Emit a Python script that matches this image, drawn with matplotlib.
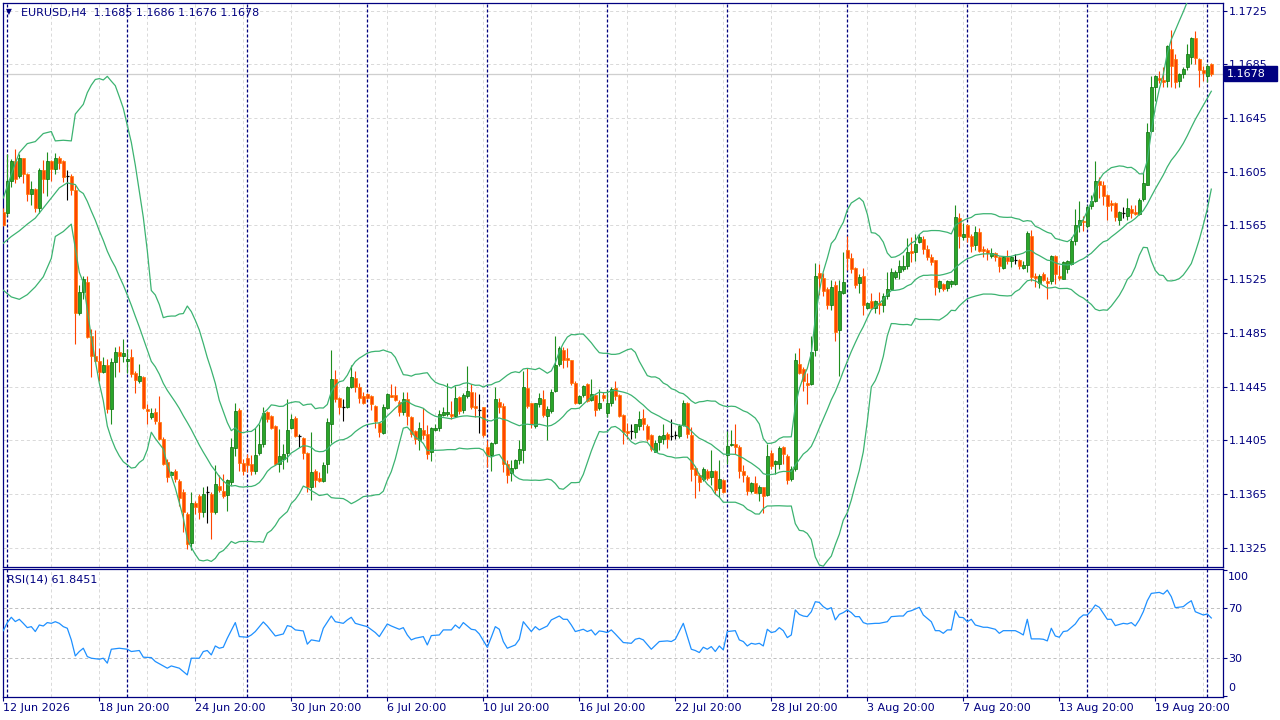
import numpy as np
import pandas as pd
import matplotlib
matplotlib.use("Agg")
import matplotlib.pyplot as plt
from matplotlib.patches import Rectangle

plt.rcParams["font.family"] = ["DejaVu Sans"]

# ---- EURUSD H4 candles (bar 0 = 12 Jun 2026) ----
opens = [
    1.15750, 1.15743, 1.15985, 1.16130, 1.16018, 1.16150, 1.16035, 1.15885, 1.15925, 1.15780,
    1.16060, 1.16000, 1.16130, 1.16068, 1.16150, 1.16130, 1.16018, 1.16018, 1.15918, 1.15000,
    1.15155, 1.15230, 1.14825, 1.14680, 1.14643, 1.14560, 1.14613, 1.14280, 1.14635, 1.14705,
    1.14680, 1.14643, 1.14668, 1.14555, 1.14493, 1.14525, 1.14285, 1.14225, 1.14260, 1.14188,
    1.14063, 1.13888, 1.13790, 1.13820, 1.13745, 1.13663, 1.13500, 1.13283, 1.13583, 1.13638,
    1.13518, 1.13668, 1.13650, 1.13518, 1.13713, 1.13675, 1.13643, 1.13743, 1.13993, 1.14275,
    1.13883, 1.13918, 1.13875, 1.13825, 1.13958, 1.14025, 1.14263, 1.14233, 1.14158, 1.13875,
    1.13913, 1.13958, 1.14138, 1.14218, 1.14083, 1.14068, 1.13958, 1.13705, 1.13820, 1.13770,
    1.13745, 1.13870, 1.14175, 1.14505, 1.14368, 1.14300, 1.14300, 1.14450, 1.14513, 1.14450,
    1.14380, 1.14395, 1.14380, 1.14305, 1.14180, 1.14105, 1.14288, 1.14388, 1.14388, 1.14338,
    1.14263, 1.14355, 1.14220, 1.14120, 1.14055, 1.14125, 1.14095, 1.13963, 1.14125, 1.14145,
    1.14238, 1.14245, 1.14245, 1.14230, 1.14370, 1.14275, 1.14380, 1.14413, 1.14305, 1.14275,
    1.14295, 1.14000, 1.13938, 1.14030, 1.14338, 1.14305, 1.13875, 1.13805, 1.13845, 1.13905,
    1.13975, 1.14443, 1.14325, 1.14155, 1.14320, 1.14355, 1.14230, 1.14270, 1.14420, 1.14620,
    1.14720, 1.14663, 1.14645, 1.14480, 1.14330, 1.14388, 1.14470, 1.14350, 1.14388, 1.14288,
    1.14388, 1.14255, 1.14330, 1.14438, 1.14388, 1.14238, 1.14120, 1.14120, 1.14113, 1.14155,
    1.14213, 1.14155, 1.14088, 1.13963, 1.14038, 1.14063, 1.14095, 1.14080, 1.14088, 1.14080,
    1.14163, 1.14330, 1.14088, 1.13845, 1.13795, 1.13763, 1.13825, 1.13780, 1.13825, 1.13695,
    1.13755, 1.13938, 1.14013, 1.14020, 1.14000, 1.13825, 1.13775, 1.13670, 1.13730, 1.13660,
    1.13700, 1.13643, 1.13955, 1.13875, 1.13875, 1.14000, 1.13935, 1.13760, 1.13835, 1.14618,
    1.14580, 1.14480, 1.14468, 1.14725, 1.15293, 1.15260, 1.15180, 1.15055, 1.15205, 1.14875,
    1.15150, 1.15468, 1.15410, 1.15335, 1.15225, 1.15275, 1.15035, 1.15085, 1.15035, 1.15075,
    1.15055, 1.15125, 1.15180, 1.15268, 1.15300, 1.15325, 1.15350, 1.15458, 1.15450, 1.15525,
    1.15550, 1.15475, 1.15415, 1.15390, 1.15183, 1.15215, 1.15183, 1.15215, 1.15215, 1.15708,
    1.15565, 1.15650, 1.15575, 1.15508, 1.15600, 1.15475, 1.15470, 1.15425, 1.15445, 1.15415,
    1.15333, 1.15415, 1.15383, 1.15390, 1.15390, 1.15333, 1.15358, 1.15575, 1.15275, 1.15225,
    1.15290, 1.15240, 1.15233, 1.15420, 1.15275, 1.15255, 1.15325, 1.15360, 1.15535, 1.15650,
    1.15685, 1.15643, 1.15793, 1.15835, 1.15980, 1.15950, 1.15875, 1.15818, 1.15818, 1.15693,
    1.15743, 1.15718, 1.15775, 1.15750, 1.15735, 1.15850, 1.15955, 1.16355, 1.16685, 1.16750,
    1.16735, 1.16730, 1.16968, 1.16893, 1.16725, 1.16775, 1.16830, 1.16905, 1.17050, 1.16893,
    1.16805, 1.16760, 1.16850,
]
highs = [
    1.15780, 1.16185, 1.16143, 1.16218, 1.16180, 1.16155, 1.16043, 1.15980, 1.15930, 1.16075,
    1.16135, 1.16200, 1.16140, 1.16193, 1.16168, 1.16135, 1.16060, 1.16030, 1.15955, 1.15205,
    1.15275, 1.15275, 1.14880, 1.14868, 1.14735, 1.14668, 1.14655, 1.14660, 1.14743, 1.14755,
    1.14805, 1.14730, 1.14730, 1.14568, 1.14618, 1.14530, 1.14318, 1.14293, 1.14293, 1.14383,
    1.14075, 1.13913, 1.13825, 1.13833, 1.13763, 1.13688, 1.13513, 1.13668, 1.13600, 1.13650,
    1.13700, 1.13713, 1.13663, 1.13868, 1.13793, 1.13800, 1.13763, 1.14068, 1.14330, 1.14288,
    1.13913, 1.13950, 1.13943, 1.14138, 1.14175, 1.14300, 1.14268, 1.14238, 1.14163, 1.14133,
    1.14025, 1.14358, 1.14243, 1.14230, 1.14100, 1.14075, 1.13963, 1.14113, 1.13838, 1.13813,
    1.13888, 1.14213, 1.14720, 1.14575, 1.14370, 1.14355, 1.14455, 1.14613, 1.14563, 1.14475,
    1.14413, 1.14405, 1.14388, 1.14313, 1.14188, 1.14320, 1.14400, 1.14470, 1.14455, 1.14350,
    1.14413, 1.14413, 1.14230, 1.14130, 1.14188, 1.14288, 1.14163, 1.14150, 1.14170, 1.14275,
    1.14295, 1.14475, 1.14345, 1.14455, 1.14380, 1.14405, 1.14600, 1.14470, 1.14413, 1.14395,
    1.14300, 1.14050, 1.14038, 1.14450, 1.14363, 1.14330, 1.13900, 1.13900, 1.13913, 1.14055,
    1.14563, 1.14588, 1.14330, 1.14330, 1.14400, 1.14425, 1.14305, 1.14430, 1.14825, 1.14750,
    1.14745, 1.14738, 1.14650, 1.14488, 1.14388, 1.14463, 1.14475, 1.14505, 1.14395, 1.14430,
    1.14413, 1.14425, 1.14445, 1.14488, 1.14395, 1.14245, 1.14180, 1.14170, 1.14175, 1.14270,
    1.14280, 1.14175, 1.14100, 1.14055, 1.14088, 1.14170, 1.14113, 1.14205, 1.14120, 1.14170,
    1.14350, 1.14338, 1.14150, 1.13855, 1.13805, 1.13850, 1.13838, 1.13975, 1.13830, 1.13900,
    1.13763, 1.14120, 1.14130, 1.14170, 1.14013, 1.13863, 1.13788, 1.13738, 1.13785, 1.13718,
    1.13705, 1.14025, 1.13975, 1.13905, 1.14005, 1.14010, 1.13950, 1.13855, 1.14700, 1.14735,
    1.14593, 1.14555, 1.14825, 1.15368, 1.15360, 1.15293, 1.15193, 1.15243, 1.15235, 1.15243,
    1.15455, 1.15575, 1.15443, 1.15343, 1.15285, 1.15335, 1.15080, 1.15150, 1.15093, 1.15155,
    1.15150, 1.15305, 1.15330, 1.15318, 1.15393, 1.15430, 1.15558, 1.15565, 1.15590, 1.15583,
    1.15575, 1.15508, 1.15440, 1.15395, 1.15245, 1.15225, 1.15245, 1.15245, 1.15800, 1.15745,
    1.15670, 1.15658, 1.15583, 1.15645, 1.15633, 1.15495, 1.15483, 1.15483, 1.15450, 1.15420,
    1.15425, 1.15470, 1.15425, 1.15440, 1.15400, 1.15383, 1.15608, 1.15620, 1.15295, 1.15290,
    1.15300, 1.15270, 1.15433, 1.15433, 1.15355, 1.15385, 1.15393, 1.15568, 1.15775, 1.15835,
    1.15718, 1.15800, 1.15880, 1.16130, 1.16010, 1.15985, 1.15885, 1.15843, 1.15825, 1.15760,
    1.15785, 1.15855, 1.15805, 1.15800, 1.15855, 1.16043, 1.16410, 1.16760, 1.16768, 1.16800,
    1.16830, 1.16993, 1.17105, 1.16930, 1.16785, 1.16830, 1.17005, 1.17055, 1.17100, 1.16900,
    1.16835, 1.16850, 1.16860,
]
lows = [
    1.15643, 1.15718, 1.15935, 1.15968, 1.16005, 1.15968, 1.15830, 1.15805, 1.15750, 1.15743,
    1.15893, 1.15868, 1.15980, 1.16035, 1.16068, 1.15975, 1.15838, 1.15880, 1.14768, 1.14980,
    1.15100, 1.14810, 1.14518, 1.14630, 1.14493, 1.14550, 1.14255, 1.14168, 1.14518, 1.14560,
    1.14635, 1.14550, 1.14518, 1.14405, 1.14480, 1.14280, 1.14168, 1.14205, 1.14168, 1.14050,
    1.13863, 1.13738, 1.13775, 1.13738, 1.13563, 1.13368, 1.13238, 1.13233, 1.13500, 1.13463,
    1.13475, 1.13433, 1.13313, 1.13500, 1.13663, 1.13618, 1.13525, 1.13718, 1.13933, 1.13825,
    1.13793, 1.13813, 1.13793, 1.13800, 1.13938, 1.14000, 1.14188, 1.14133, 1.13863, 1.13813,
    1.13838, 1.13888, 1.14133, 1.14075, 1.14000, 1.13913, 1.13668, 1.13605, 1.13705, 1.13738,
    1.13738, 1.13805, 1.14030, 1.14338, 1.14245, 1.14195, 1.14288, 1.14438, 1.14413, 1.14330,
    1.14320, 1.14355, 1.14275, 1.14138, 1.14075, 1.14100, 1.14280, 1.14370, 1.14345, 1.14230,
    1.14238, 1.14163, 1.14075, 1.14020, 1.13980, 1.14063, 1.13913, 1.13895, 1.14120, 1.14120,
    1.14230, 1.14230, 1.14205, 1.14225, 1.14245, 1.14250, 1.14363, 1.14280, 1.14220, 1.14105,
    1.14075, 1.13850, 1.13825, 1.14020, 1.14250, 1.13813, 1.13730, 1.13745, 1.13838, 1.13875,
    1.13880, 1.14288, 1.14145, 1.14145, 1.14300, 1.14225, 1.14050, 1.14255, 1.14413, 1.14600,
    1.14588, 1.14595, 1.14463, 1.14320, 1.14320, 1.14375, 1.14338, 1.14345, 1.14230, 1.14275,
    1.14345, 1.14220, 1.14305, 1.14350, 1.14225, 1.14020, 1.14063, 1.14063, 1.14070, 1.14130,
    1.14125, 1.14045, 1.13970, 1.13960, 1.13975, 1.14020, 1.13995, 1.14050, 1.14063, 1.14070,
    1.14155, 1.14070, 1.13745, 1.13620, 1.13670, 1.13750, 1.13755, 1.13720, 1.13650, 1.13630,
    1.13655, 1.13870, 1.14005, 1.13950, 1.13770, 1.13738, 1.13645, 1.13655, 1.13655, 1.13600,
    1.13510, 1.13635, 1.13835, 1.13800, 1.13835, 1.13875, 1.13725, 1.13750, 1.13825, 1.14543,
    1.14418, 1.14318, 1.14460, 1.14675, 1.15130, 1.15125, 1.15025, 1.15018, 1.14793, 1.14530,
    1.15143, 1.15318, 1.15293, 1.15185, 1.15150, 1.14980, 1.15025, 1.15025, 1.15000, 1.14993,
    1.15005, 1.15105, 1.15175, 1.15250, 1.15255, 1.15310, 1.15325, 1.15375, 1.15383, 1.15520,
    1.15440, 1.15390, 1.15358, 1.15133, 1.15158, 1.15165, 1.15165, 1.15195, 1.15208, 1.15483,
    1.15545, 1.15525, 1.15450, 1.15470, 1.15450, 1.15415, 1.15390, 1.15408, 1.15383, 1.15300,
    1.15325, 1.15365, 1.15340, 1.15365, 1.15325, 1.15325, 1.15300, 1.15233, 1.15190, 1.15183,
    1.15233, 1.15100, 1.15215, 1.15215, 1.15243, 1.15250, 1.15293, 1.15355, 1.15505, 1.15605,
    1.15610, 1.15635, 1.15775, 1.15825, 1.15855, 1.15805, 1.15693, 1.15760, 1.15680, 1.15655,
    1.15705, 1.15693, 1.15705, 1.15725, 1.15730, 1.15835, 1.15950, 1.16350, 1.16575, 1.16710,
    1.16685, 1.16685, 1.16685, 1.16675, 1.16680, 1.16750, 1.16810, 1.16855, 1.16855, 1.16680,
    1.16725, 1.16718, 1.16760,
]
closes = [
    1.15655, 1.15985, 1.16130, 1.16000, 1.16150, 1.16035, 1.15885, 1.15925, 1.15780, 1.16060,
    1.16000, 1.16130, 1.16068, 1.16150, 1.16118, 1.16010, 1.16018, 1.15918, 1.15000, 1.15155,
    1.15250, 1.14818, 1.14680, 1.14643, 1.14560, 1.14613, 1.14280, 1.14635, 1.14705, 1.14680,
    1.14698, 1.14655, 1.14543, 1.14500, 1.14530, 1.14293, 1.14268, 1.14255, 1.14193, 1.14063,
    1.13875, 1.13775, 1.13813, 1.13763, 1.13618, 1.13518, 1.13275, 1.13583, 1.13550, 1.13518,
    1.13650, 1.13668, 1.13518, 1.13725, 1.13683, 1.13638, 1.13758, 1.14000, 1.14268, 1.13883,
    1.13825, 1.13863, 1.13818, 1.13943, 1.14020, 1.14250, 1.14208, 1.14143, 1.13875, 1.13933,
    1.13948, 1.14125, 1.14208, 1.14083, 1.14083, 1.13958, 1.13700, 1.13813, 1.13755, 1.13750,
    1.13863, 1.14188, 1.14505, 1.14355, 1.14300, 1.14300, 1.14450, 1.14525, 1.14450, 1.14363,
    1.14330, 1.14363, 1.14320, 1.14195, 1.14113, 1.14300, 1.14395, 1.14375, 1.14350, 1.14263,
    1.14355, 1.14230, 1.14095, 1.14063, 1.14145, 1.14088, 1.13945, 1.14145, 1.14145, 1.14245,
    1.14263, 1.14263, 1.14230, 1.14363, 1.14270, 1.14388, 1.14420, 1.14295, 1.14288, 1.14275,
    1.14088, 1.13938, 1.14030, 1.14355, 1.14295, 1.13875, 1.13795, 1.13845, 1.13905, 1.13988,
    1.14450, 1.14305, 1.14170, 1.14325, 1.14363, 1.14238, 1.14280, 1.14413, 1.14613, 1.14738,
    1.14650, 1.14645, 1.14480, 1.14330, 1.14380, 1.14455, 1.14345, 1.14395, 1.14275, 1.14330,
    1.14363, 1.14330, 1.14430, 1.14380, 1.14230, 1.14113, 1.14105, 1.14120, 1.14170, 1.14205,
    1.14170, 1.14063, 1.13988, 1.14030, 1.14080, 1.14088, 1.14063, 1.14080, 1.14088, 1.14155,
    1.14325, 1.14095, 1.13838, 1.13788, 1.13738, 1.13838, 1.13770, 1.13820, 1.13680, 1.13763,
    1.13663, 1.14005, 1.14025, 1.14000, 1.13820, 1.13788, 1.13670, 1.13730, 1.13660, 1.13705,
    1.13635, 1.13935, 1.13860, 1.13893, 1.13993, 1.13950, 1.13755, 1.13835, 1.14650, 1.14555,
    1.14493, 1.14460, 1.14710, 1.15275, 1.15260, 1.15160, 1.15060, 1.15193, 1.14860, 1.15160,
    1.15230, 1.15410, 1.15325, 1.15210, 1.15268, 1.15055, 1.15073, 1.15035, 1.15085, 1.15060,
    1.15125, 1.15175, 1.15300, 1.15300, 1.15350, 1.15350, 1.15450, 1.15445, 1.15515, 1.15565,
    1.15475, 1.15415, 1.15375, 1.15190, 1.15240, 1.15175, 1.15233, 1.15233, 1.15715, 1.15575,
    1.15590, 1.15565, 1.15500, 1.15600, 1.15458, 1.15458, 1.15445, 1.15445, 1.15415, 1.15345,
    1.15415, 1.15383, 1.15415, 1.15390, 1.15345, 1.15358, 1.15595, 1.15265, 1.15258, 1.15275,
    1.15245, 1.15225, 1.15425, 1.15290, 1.15260, 1.15380, 1.15385, 1.15535, 1.15650, 1.15693,
    1.15675, 1.15785, 1.15835, 1.15980, 1.15950, 1.15868, 1.15793, 1.15800, 1.15710, 1.15750,
    1.15743, 1.15780, 1.15743, 1.15735, 1.15843, 1.15968, 1.16343, 1.16685, 1.16760, 1.16735,
    1.16718, 1.16985, 1.16835, 1.16718, 1.16775, 1.16818, 1.16925, 1.17043, 1.16900, 1.16805,
    1.16785, 1.16840, 1.16780,
]

# Bollinger(20, 2) values before the first full 20-bar window
bb_head_up_bars = [0, 2, 4, 6, 8, 10, 12, 13, 15, 17, 18]
bb_head_up = [1.15855, 1.16030, 1.16193, 1.16260, 1.16275, 1.16335, 1.16350,
              1.16280, 1.16285, 1.16280, 1.16480]
bb_head_mid_bars = [0, 2, 4, 6, 8, 10, 12, 14, 16, 17, 18]
bb_head_mid = [1.15518, 1.15568, 1.15610, 1.15660, 1.15705, 1.15780, 1.15855,
               1.15930, 1.15968, 1.15960, 1.15955]
bb_head_low_bars = [0, 2, 4, 6, 8, 10, 12, 13, 15, 17, 18]
bb_head_low = [1.15168, 1.15118, 1.15100, 1.15135, 1.15193, 1.15268, 1.15405,
               1.15568, 1.15605, 1.15660, 1.15480]

# RSI(14)
rsi_bars = [
    0, 1, 2, 3, 4, 5, 6, 7, 8, 9, 10, 11, 12, 13, 14, 15, 16, 17, 18, 19,
    20, 21, 22, 24, 25, 26, 27, 29, 31, 32, 34, 35, 37, 38, 40, 41, 42, 44, 45, 46,
    47, 49, 50, 51, 52, 53, 54, 55, 56, 58, 59, 61, 62, 63, 65, 66, 68, 70, 71, 72,
    73, 75, 76, 77, 79, 80, 82, 83, 85, 86, 87, 88, 90, 91, 93, 94, 96, 97, 99, 100,
    101, 102, 103, 105, 106, 107, 109, 110, 111, 112, 113, 114, 115, 117, 118, 119, 121, 122, 123, 124,
    125, 126, 128, 129, 130, 132, 133, 134, 136, 137, 139, 140, 141, 142, 143, 145, 146, 147, 148, 149,
    150, 151, 152, 153, 155, 157, 158, 159, 160, 162, 164, 166, 167, 168, 170, 172, 173, 174, 175, 176,
    177, 178, 179, 180, 181, 183, 184, 185, 186, 187, 188, 189, 190, 191, 192, 193, 194, 195, 196, 197,
    198, 199, 200, 201, 202, 203, 204, 205, 206, 207, 208, 209, 210, 211, 212, 213, 214, 215, 216, 218,
    219, 221, 222, 224, 225, 226, 227, 229, 230, 232, 233, 234, 235, 236, 237, 238, 239, 240, 241, 242,
    243, 245, 246, 247, 248, 249, 250, 252, 253, 254, 255, 256, 257, 259, 260, 261, 262, 263, 264, 265,
    266, 268, 269, 270, 271, 272, 273, 274, 276, 277, 278, 280, 281, 282, 283, 284, 285, 286, 287, 289,
    290, 291, 292, 293, 295, 296, 297, 298, 300, 301, 302,
]
rsi_vals = [
    51.8, 58.2, 62.4, 59.0, 60.8, 57.6, 54.2, 55.0, 51.1, 56.3, 55.5, 58.2, 57.6, 58.9, 57.6, 55.0, 53.7, 44.5, 31.8, 35.3,
    37.9, 31.3, 30.0, 29.2, 30.0, 26.1, 37.1, 37.9, 37.1, 35.3, 36.1, 30.8, 30.5, 27.4, 23.9, 22.1, 23.9, 22.1, 19.5, 16.8,
    30.0, 30.0, 35.3, 36.1, 32.6, 39.7, 37.9, 38.7, 45.8, 58.2, 47.1, 46.6, 48.4, 51.1, 58.7, 55.5, 47.6, 49.2, 55.8, 55.0,
    52.4, 51.6, 41.1, 44.5, 43.4, 53.7, 63.4, 58.9, 57.6, 60.3, 62.4, 57.6, 55.8, 55.0, 50.3, 47.1, 57.1, 55.5, 52.9, 54.2,
    48.4, 44.5, 45.8, 47.1, 40.5, 47.9, 48.4, 52.4, 52.4, 52.4, 56.3, 53.7, 58.2, 52.9, 52.4, 49.2, 38.7, 46.6, 55.0, 52.9,
    43.2, 37.9, 40.5, 45.0, 58.9, 51.1, 55.0, 52.4, 55.5, 60.3, 63.4, 60.8, 60.8, 56.3, 51.1, 52.9, 51.1, 52.4, 48.4, 51.6,
    51.1, 50.3, 52.4, 49.2, 42.4, 41.8, 45.0, 45.8, 44.5, 37.1, 43.2, 43.7, 43.2, 45.0, 57.6, 37.1, 36.1, 34.5, 38.7, 37.1,
    39.2, 35.3, 39.7, 36.6, 51.1, 51.8, 44.5, 43.2, 39.7, 41.8, 41.1, 41.8, 39.7, 52.9, 50.3, 51.1, 54.2, 51.8, 46.3, 48.4,
    68.2, 64.7, 63.4, 62.9, 66.8, 74.7, 74.2, 70.8, 68.7, 70.0, 60.3, 64.7, 66.1, 68.2, 66.1, 62.9, 62.9, 58.2, 57.1, 57.6,
    57.6, 58.9, 62.9, 63.4, 63.4, 66.8, 67.6, 70.3, 64.2, 58.9, 51.8, 51.8, 49.7, 52.4, 52.4, 67.6, 62.4, 62.1, 58.9, 60.8,
    56.3, 54.5, 54.5, 53.7, 52.9, 49.7, 51.8, 51.8, 51.8, 50.3, 48.4, 60.8, 45.3, 45.3, 45.0, 43.7, 53.7, 47.6, 46.6, 51.1,
    51.6, 57.1, 61.6, 64.2, 64.2, 67.6, 72.1, 70.3, 60.8, 60.8, 55.8, 57.6, 57.1, 58.2, 55.5, 60.3, 66.8, 75.5, 81.3, 82.1,
    80.8, 83.9, 78.7, 70.0, 70.8, 73.4, 75.5, 66.8, 64.2, 65.0, 61.8451,
]

price_ticks = [1.1325, 1.1365, 1.1405, 1.1445, 1.1485, 1.1525,
               1.1565, 1.1605, 1.1645, 1.1685, 1.1725]
rsi_levels = [70, 30]
date_bars = [0, 24, 48, 72, 96, 120, 144, 168, 192, 216, 240, 264, 288]
date_labels = ["12 Jun 2026", "18 Jun 20:00", "24 Jun 20:00", "30 Jun 20:00",
               "6 Jul 20:00", "10 Jul 20:00", "16 Jul 20:00", "22 Jul 20:00",
               "28 Jul 20:00", "3 Aug 20:00", "7 Aug 20:00", "13 Aug 20:00",
               "19 Aug 20:00"]

NAVY = "#000080"
GRID = "#D9D9D9"
BULL_FACE, BULL_EDGE, BULL_WICK = "#2AA52A", "#0A6E0A", "#1F8F1F"
BEAR_FACE, BEAR_EDGE = "#FF4500", "#FF7A00"
BAND = "#3CB371"
RSI_COL = "#1E90FF"
FS = 8

W, H = 1280, 720


def px_box(left, top, right, bottom):
    return [left / W, 1 - bottom / H, (right - left) / W, (bottom - top) / H]


o = np.array(opens)
h = np.array(highs)
l = np.array(lows)
c = np.array(closes)
n = len(c)
x = np.arange(n)

fig = plt.figure(figsize=(W / 100, H / 100), dpi=100)
fig.patch.set_facecolor("white")
ax = fig.add_axes(px_box(2.5, 2.5, 1222.5, 566.5))
rx = fig.add_axes(px_box(2.5, 568.5, 1222.5, 696.5))

xlim = (-0.2, 304.8)
for a in (ax, rx):
    a.set_xlim(*xlim)
    for s in a.spines.values():
        s.set_color(NAVY)
        s.set_linewidth(0.9)
ax.set_ylim(1.13110, 1.17311)
rx.set_ylim(-0.3, 101.0)

# grid + weekly period separators
dash_grid = (0, (3.2, 2.8))
for a in (ax, rx):
    for b in range(0, n, 12):
        a.axvline(b, color=GRID, lw=0.7, ls=dash_grid, zorder=1)
    for b in range(1, n, 30):
        a.axvline(b, color=NAVY, lw=0.9, ls=(0, (2.4, 1.6)), zorder=2)
for p in price_ticks:
    ax.axhline(p, color=GRID, lw=0.7, ls=dash_grid, zorder=1)
for lv in rsi_levels:
    rx.axhline(lv, color="#BEBEBE", lw=0.7, ls=dash_grid, zorder=1)

# bid line
ax.axhline(c[-1], color="#CFCFCF", lw=0.9, zorder=1.5)

# candles
up = c > o + 1e-9
dn = c < o - 1e-9
dj = ~(up | dn)
wick_cols = np.where(up, BULL_WICK, np.where(dn, BEAR_FACE, "black"))
ax.vlines(x, l, h, colors=wick_cols, lw=0.8, zorder=3)
ax.bar(x[up], (c - o)[up], bottom=o[up], width=0.66, color=BULL_FACE,
       edgecolor=BULL_EDGE, linewidth=0.5, zorder=4)
ax.bar(x[dn], (o - c)[dn], bottom=c[dn], width=0.66, color=BEAR_FACE,
       edgecolor=BEAR_EDGE, linewidth=0.5, zorder=4)
ax.hlines(c[dj], x[dj] - 0.4, x[dj] + 0.4, colors="black", lw=0.9, zorder=4)

# Bollinger bands (20, 2)
cs = pd.Series(c)
mid = cs.rolling(20).mean()
sd = cs.rolling(20).std(ddof=0)
tail = list(range(19, n))
for hb, hv, calc in ((bb_head_up_bars, bb_head_up, mid + 2 * sd),
                     (bb_head_mid_bars, bb_head_mid, mid),
                     (bb_head_low_bars, bb_head_low, mid - 2 * sd)):
    ax.plot(hb + tail, hv + list(calc.values[19:]), color=BAND, lw=0.9, zorder=5)

# RSI
rx.plot(rsi_bars, rsi_vals, color=RSI_COL, lw=0.9, zorder=5)

# axes ticks / labels
ax.yaxis.tick_right()
ax.set_yticks(price_ticks)
ax.set_yticklabels([f"{p:.4f}" for p in price_ticks])
ax.tick_params(axis="y", colors=NAVY, labelcolor=NAVY, length=3, width=0.8,
               pad=1.2, labelsize=FS)
ax.tick_params(axis="x", length=0, labelbottom=False)

rx.yaxis.tick_right()
rx.set_yticks([100, 70, 30, 0])
rx.set_yticklabels(["", "70", "30", ""])
rx.tick_params(axis="y", colors=NAVY, labelcolor=NAVY, length=3, width=0.8,
               pad=1.2, labelsize=FS)
for val, dy in ((100, -7), (0, 8)):
    rx.annotate(str(val), xy=(1, val), xycoords=("axes fraction", "data"),
                xytext=(5.5, dy), textcoords="offset pixels", ha="left",
                va="center", fontsize=FS, color=NAVY, annotation_clip=False)
rx.set_xticks(date_bars)
rx.set_xticklabels(date_labels, ha="left")
rx.tick_params(axis="x", colors=NAVY, labelcolor=NAVY, length=3, width=0.8,
               pad=1.5, labelsize=FS)

# header texts
fig.text(9 / W, 1 - 12 / H, "\u25bc", fontsize=5.5, color=NAVY, ha="center", va="center")
fig.text(21 / W, 1 - 13 / H,
         f"EURUSD,H4  {o[-1]:.4f} {h[-1]:.4f} {l[-1]:.4f} {c[-1]:.4f}",
         fontsize=FS, color=NAVY, ha="left", va="center")
fig.text(7 / W, 1 - 579 / H, f"RSI(14) {rsi_vals[-1]:.4f}",
         fontsize=FS, color=NAVY, ha="left", va="center")

# current price box on the price scale
yd = ax.transData.transform((0, c[-1]))[1]
fig.add_artist(Rectangle((1223.5 / W, (yd - 7.5) / H), 53 / W, 15 / H,
                         transform=fig.transFigure, facecolor=NAVY,
                         edgecolor=NAVY, zorder=10))
fig.text(1227 / W, yd / H, f"{c[-1]:.4f}", fontsize=FS, color="white",
         ha="left", va="center", zorder=11)

fig.savefig("out.png", dpi=100, facecolor="white")
